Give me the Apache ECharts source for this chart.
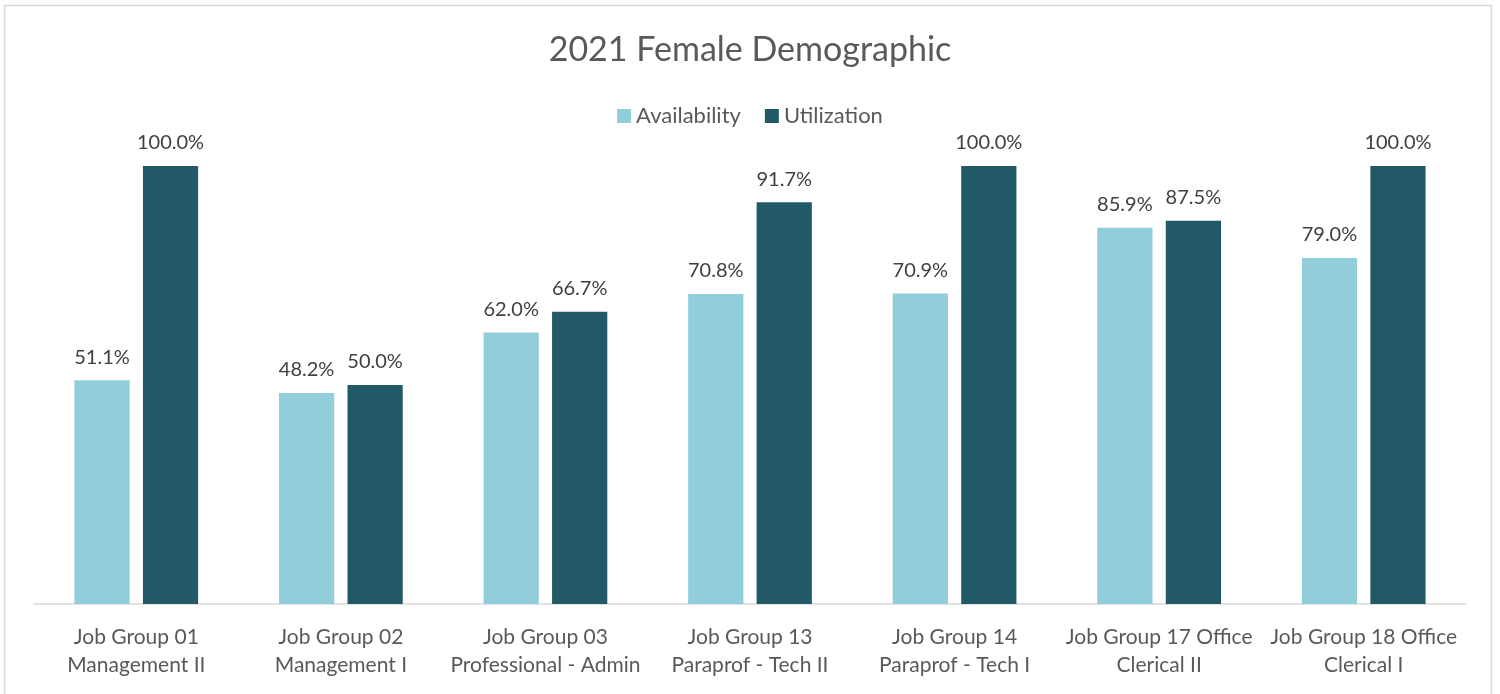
<!DOCTYPE html>
<html>
<head>
<meta charset="utf-8">
<script src="https://cdn.jsdelivr.net/npm/echarts@6/dist/echarts.min.js"></script>
<style>
  html, body { margin: 0; padding: 0; background: #fff; }
  #chart { width: 1500px; height: 694px; }
</style>
</head>
<body>
<div id="chart"></div>
<script>
// Job groups shown along the x axis
const categories = [
  'Job Group 01\nManagement II',
  'Job Group 02\nManagement I',
  'Job Group 03\nProfessional - Admin',
  'Job Group 13\nParaprof - Tech II',
  'Job Group 14\nParaprof - Tech I',
  'Job Group 17 Office\nClerical II',
  'Job Group 18 Office\nClerical I'
];
// Percent values per job group
const availability = [51.1, 48.2, 62.0, 70.8, 70.9, 85.9, 79.0];
const utilization = [100.0, 50.0, 66.7, 91.7, 100.0, 87.5, 100.0];

const FONT = 'Lato, "Open Sans", sans-serif';
const chart = echarts.init(document.getElementById('chart'));

const labelStyle = {
  show: true,
  position: 'top',
  distance: 13,
  color: '#404040',
  fontSize: 20,
  fontFamily: FONT,
  formatter: p => p.value.toFixed(1) + '%'
};

chart.setOption({
  animation: false,
  backgroundColor: '#fff',
  graphic: [{
    type: 'rect',
    shape: { x: 4.5, y: 5.5, width: 1487, height: 720 },
    style: { fill: 'none', stroke: '#d9d9d9', lineWidth: 1.5 },
    silent: true
  }],
  title: {
    text: '2021 Female Demographic',
    left: 'center',
    top: 28,
    textStyle: { color: '#595959', fontSize: 34, fontWeight: 'normal', fontFamily: FONT }
  },
  legend: {
    top: 100,
    left: 'center',
    itemWidth: 14,
    itemHeight: 14,
    itemGap: 24,
    icon: 'rect',
    textStyle: { color: '#595959', fontSize: 22, fontFamily: FONT },
    data: ['Availability', 'Utilization']
  },
  grid: { left: 34, right: 34, top: 166, bottom: 90, containLabel: false },
  xAxis: {
    type: 'category',
    data: categories,
    axisLine: { lineStyle: { color: '#d9d9d9', width: 1.5 } },
    axisTick: { show: false },
    axisLabel: {
      interval: 0,
      margin: 19,
      color: '#595959',
      fontSize: 21,
      lineHeight: 28,
      fontFamily: FONT
    }
  },
  yAxis: {
    type: 'value',
    min: 0,
    max: 100,
    show: false,
    splitLine: { show: false }
  },
  series: [
    {
      name: 'Availability',
      type: 'bar',
      data: availability,
      barWidth: '27%',
      barGap: '24%',
      itemStyle: { color: '#92cddc' },
      label: labelStyle
    },
    {
      name: 'Utilization',
      type: 'bar',
      data: utilization,
      barWidth: '27%',
      itemStyle: { color: '#215967' },
      label: labelStyle
    }
  ]
});
</script>
</body>
</html>
